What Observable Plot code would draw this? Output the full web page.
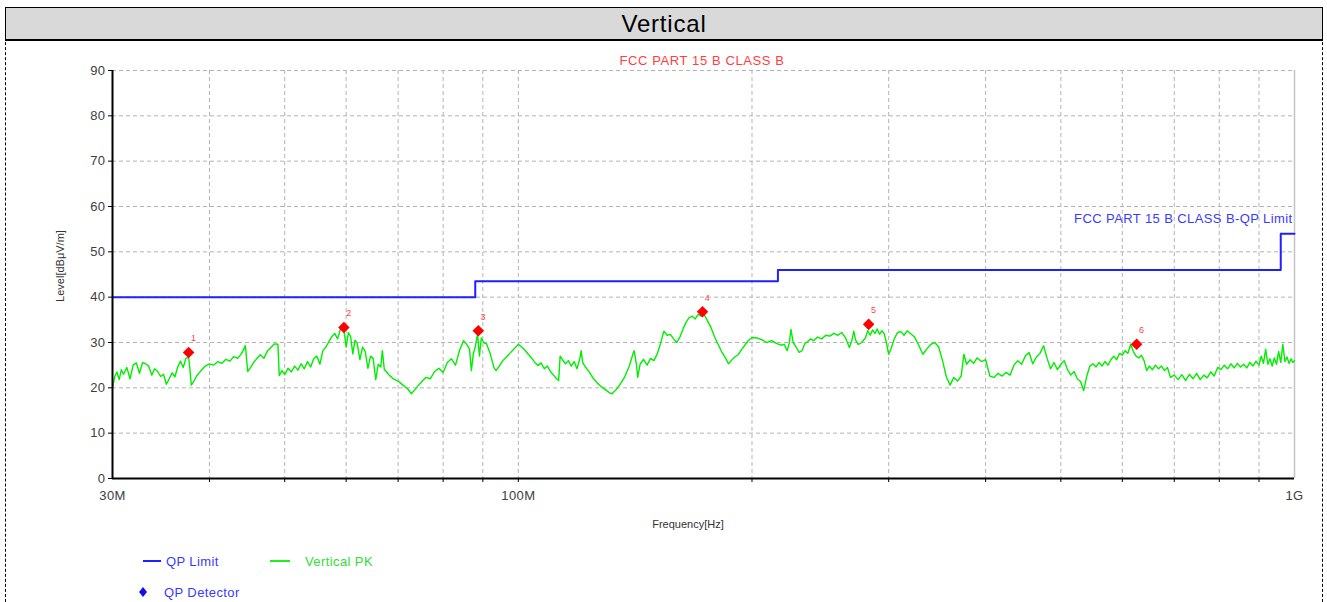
<!DOCTYPE html>
<html><head><meta charset="utf-8">
<script src="https://cdn.jsdelivr.net/npm/d3@7"></script>
<script src="https://cdn.jsdelivr.net/npm/@observablehq/plot@0.6"></script>
<style>
body{margin:0;background:#fff;font-family:"Liberation Sans",Arial,sans-serif;}
#wrap{position:relative;width:1327px;height:602px;overflow:hidden;background:#fff;}
#frame{position:absolute;left:5px;top:7px;width:1316px;height:620px;border-left:1px dashed #000;border-right:1px dashed #000;}
#band{position:absolute;left:5px;top:7px;width:1316px;height:31px;background:#d9d9d9;border:1px solid #000;border-bottom:2px solid #000;text-align:center;font-size:24px;letter-spacing:0.8px;line-height:32px;color:#000;}
#chart{position:absolute;left:0;top:40px;}
.lbl{position:absolute;transform:translate(-50%,-50%);white-space:nowrap;}
.leg{position:absolute;font-size:13px;letter-spacing:0.4px;white-space:nowrap;transform:translateY(-50%);}
</style></head><body><div id="wrap">
<div id="frame"></div>
<div id="band">Vertical</div>
<div id="chart"></div>
<div class="lbl" style="left:702px;top:60px;font-size:13px;letter-spacing:0.6px;color:#ff4040;">FCC PART 15 B CLASS B</div>
<div class="lbl" style="left:60px;top:266px;font-size:11px;color:#333;transform:translate(-50%,-50%) rotate(-90deg);">Level[dBμV/m]</div>
<div class="lbl" style="left:688px;top:524px;font-size:11px;color:#333;">Frequency[Hz]</div>
<svg style="position:absolute;left:0;top:0;" width="1327" height="602">
  <line x1="143" x2="161" y1="561" y2="561" stroke="#2020ff" stroke-width="2"/>
  <line x1="270" x2="290" y1="561" y2="561" stroke="#22ee22" stroke-width="2"/>
  <path d="M143,587 L147,592 L143,597 L139,592 Z" fill="#1010ee"/>
</svg>
<div class="leg" style="left:166px;top:561px;color:#3a3aff;">QP Limit</div>
<div class="leg" style="left:305px;top:561px;color:#33dd33;">Vertical PK</div>
<div class="leg" style="left:164px;top:592px;color:#3a3aff;">QP Detector</div>
</div>
<script>
// ---- data ----
const yTicks = [0,10,20,30,40,50,60,70,80,90];
const xTickValues = [30,100,1000];
const xTickLabels = ["30M","100M","1G"];
const xGridValues = [40,50,60,70,80,90,100,200,300,400,500,600,700,800,900];

const limitFreq = [30, 88, 216, 960, 1000];
const limitLevel = [40, 43.5, 46, 54, 54];
const limitName = "FCC PART 15 B CLASS B-QP Limit";

const markerFreq = [37.6, 59.6, 88.8, 172.7, 282.7, 626];
const markerLevel = [27.8, 33.3, 32.6, 36.8, 34.0, 29.6];
const markerLabel = ["1","2","3","4","5","6"];

// Vertical PK trace: [frequency MHz, level dBuV/m]
const verticalPK = [
[30,20.0],[30.2,22.5],[30.4,23.5],[30.6,21.8],[30.8,24.0],[31,23.0],[31.3,24.5],[31.6,22.0],[31.9,25.0],[32.2,25.5],[32.5,23.2],[32.8,25.6],[33.1,25.3],[33.4,24.8],[33.7,22.8],[34,24.2],[34.3,23.6],[34.6,22.5],[34.9,23.0],[35.2,20.8],[35.5,22.0],[35.8,23.3],[36.1,22.4],[36.4,24.6],[36.7,25.9],[37,24.5],[37.3,26.5],[37.6,26.8],[37.75,24.0],[37.9,20.6],[38.2,21.5],[38.5,22.6],[38.8,23.3],[39.1,24.0],[39.5,24.8],[40,25.3],[40.5,25.0],[41,25.8],[41.5,25.4],[42,26.3],[42.5,25.9],[43,26.9],[43.5,26.5],[44,27.6],[44.5,29.3],[44.8,23.6],[45.2,24.5],[45.6,25.6],[46,26.4],[46.5,27.3],[47,26.5],[47.5,28.1],[48,28.9],[48.5,29.7],[49,29.6],[49.2,22.7],[49.6,23.8],[50,22.9],[50.5,24.3],[51,23.5],[51.5,24.8],[52,23.9],[52.5,25.3],[53,24.2],[53.5,25.8],[54,24.6],[54.5,26.4],[55,27.0],[55.5,25.2],[56,28.2],[56.5,29.0],[57,30.2],[57.5,31.3],[58,32.0],[58.5,30.8],[59,33.0],[59.6,32.8],[60,29.0],[60.4,32.2],[60.8,31.3],[61.2,27.5],[61.6,30.5],[62,29.8],[62.5,26.2],[63,29.0],[63.5,28.0],[64,24.3],[64.5,27.0],[65,26.5],[65.5,21.8],[66,25.2],[66.5,24.6],[66.8,28.2],[67.2,24.0],[67.6,23.6],[68,23.0],[69,22.0],[70,21.5],[71,20.6],[72,19.8],[72.8,18.7],[73.6,19.6],[74.4,20.6],[75.2,21.5],[76,22.3],[77,22.0],[78,23.6],[79,24.3],[80,23.4],[81,25.6],[82,26.4],[83,25.0],[84,28.3],[85,30.4],[85.8,29.6],[86.5,28.6],[87,23.8],[87.5,27.5],[88,29.0],[88.6,31.9],[89.1,27.0],[89.6,31.0],[90.2,30.0],[91,29.7],[92,27.5],[93,24.5],[93.6,23.8],[94.5,24.8],[95.5,26.0],[96.5,26.8],[97.5,27.6],[98.5,28.4],[99.5,29.2],[100,29.6],
[101,29.0],[102,28.3],[103,27.4],[104,26.6],[105,25.6],[106,24.9],[107,25.5],[108,24.2],[109,24.8],[110,23.6],[111,22.8],[112,22.0],[112.7,21.6],[113.2,27.0],[114,26.2],[115,25.3],[116,26.0],[117,24.8],[118,25.8],[119,24.2],[120,26.4],[120.5,28.2],[121,25.6],[122,24.6],[123.5,23.4],[125,22.0],[126.5,21.0],[128,20.2],[129.5,19.6],[131,18.9],[132,18.7],[133.5,19.5],[135,20.6],[137,22.3],[139,24.8],[140.5,27.5],[141,28.2],[142,25.0],[142.5,22.3],[143.5,25.2],[145,26.3],[146.5,25.0],[148,26.5],[149.5,26.0],[151,27.5],[152.5,29.8],[154,32.5],[155.5,31.6],[157,31.8],[158.5,30.8],[160,30.0],[161.5,31.2],[163,33.0],[164.5,34.5],[166,35.5],[167.5,35.8],[169,35.2],[170.5,36.2],[172,35.8],[173,36.5],[174,35.8],[175.5,34.6],[177,33.4],[179,31.2],[181,29.5],[183,27.8],[185,26.5],[186.5,25.3],[188,26.0],[190,26.8],[192,27.3],[194,28.5],[196,29.5],[198,30.5],[200,31.1],[203,31.0],[206,30.6],[209,30.0],[212,30.4],[215,29.8],[218,29.4],[220,29.6],[222,28.2],[223.5,30.0],[224.5,32.9],[226,30.0],[228,29.0],[230,27.8],[232,28.2],[234,29.8],[236,30.2],[238,30.8],[240,30.4],[243,31.2],[246,30.8],[249,31.6],[252,31.4],[255,32.0],[258,31.6],[261,32.2],[264,31.0],[267,28.9],[269,30.5],[270.5,32.5],[272,30.5],[274,29.6],[276,29.8],[278,30.4],[280,31.0],[282,32.6],[284,31.6],[286,32.8],[288,32.0],[290,33.0],[292,31.8],[294,32.6],[296,32.0],[298,30.0],[300,27.4],[302,28.5],[305,30.8],[308,32.2],[311,32.4],[314,31.6],[317,32.6],[320,32.0],[324,31.2],[328,29.4],[332,27.4],[336,28.6],[340,29.6],[344,30.0],[348,29.0],[352,26.0],[356,22.4],[360,20.6],[364,22.3],[368,21.5],[372,22.6],[375,27.4],[378,25.2],[382,26.2],[386,25.4],[390,26.6],[395,25.8],[400,26.2],
[405,22.6],[410,22.3],[415,23.2],[420,22.6],[425,23.4],[430,22.8],[435,25.0],[440,26.0],[445,25.2],[450,27.0],[455,27.8],[460,25.3],[465,26.8],[470,27.6],[475,29.3],[480,26.5],[485,24.2],[490,25.6],[495,24.0],[500,25.2],[505,26.0],[510,24.0],[515,22.8],[520,23.6],[525,22.0],[530,21.4],[535,19.4],[540,22.6],[545,24.8],[550,25.3],[555,24.6],[560,25.6],[565,24.8],[570,25.8],[575,25.0],[580,26.2],[585,27.0],[590,26.2],[595,27.6],[600,27.2],[605,28.2],[610,27.6],[615,29.6],[620,28.0],[625,27.0],[630,26.6],[635,27.2],[640,26.0],[645,23.8],[650,24.8],[656,24.0],[662,25.0],[668,24.2],[674,24.8],[680,23.8],[686,24.5],[692,22.3],[700,22.8],[708,21.8],[716,22.9],[724,21.6],[732,23.0],[740,22.0],[748,23.2],[756,21.8],[764,22.8],[772,22.2],[780,23.5],[788,22.6],[796,24.5],[804,24.0],[812,25.0],[820,24.2],[828,25.3],[836,24.4],[844,25.4],[852,24.6],[860,25.2],[868,24.4],[876,25.6],[884,24.8],[892,25.9],[900,25.0],[906,27.0],[912,25.4],[918,28.5],[924,25.2],[930,26.4],[936,24.8],[942,26.6],[948,25.2],[954,28.0],[960,25.6],[966,29.6],[972,25.8],[978,26.8],[984,25.4],[990,26.4],[995,25.6],[1000,26.0]
];

// ---- build tables ----
const limitData = limitFreq.map((f,i)=>({f, v: limitLevel[i]}));
const markers = markerFreq.map((f,i)=>({f, v: markerLevel[i], t: markerLabel[i]}));
const trace = verticalPK.map(([f,v])=>({f, v}));
const gridStyle = {stroke:"#b4b4b4", strokeOpacity:1, strokeDasharray:"4,3", strokeWidth:1};

const chart = Plot.plot({
  width: 1327, height: 510,
  marginLeft: 112, marginRight: 33, marginTop: 30, marginBottom: 72,
  style: {fontFamily: "'Liberation Sans', Arial, sans-serif", fontSize: "12px", color: "#404040", background: "transparent", overflow: "visible", letterSpacing: "0.4px"},
  x: {type: "log", domain: [30, 1000]},
  y: {domain: [0, 90]},
  marks: [
    Plot.gridY(yTicks.filter(d => d > 0), gridStyle),
    Plot.gridX(xGridValues, gridStyle),
    Plot.ruleX([1000], {stroke:"#c4c4c4", strokeWidth:1.5}),
    Plot.axisY(yTicks, {tickSize: 4, tickPadding: 3, label: null, stroke:"#000", fontSize: 13}),
    Plot.axisX(xGridValues, {tickSize: 4, tickFormat: () => "", label: null, stroke:"#000"}),
    Plot.axisX(xTickValues, {tickSize: 0, tickPadding: 12, label: null, fontSize: 13, tickFormat: d => xTickLabels[xTickValues.indexOf(d)]}),
    Plot.line(limitData, {x:"f", y:"v", curve:"step-after", stroke:"#1f1fff", strokeWidth:2}),
    Plot.line(trace, {x:"f", y:"v", stroke:"#00ee00", strokeWidth:1.4}),
    Plot.ruleX([30], {stroke:"#000", strokeWidth:2}),
    Plot.ruleY([0], {stroke:"#000", strokeWidth:2}),
    Plot.dot(markers, {x:"f", y:"v", symbol:"diamond2", r:5.2, fill:"#ff0000", stroke:null}),
    Plot.text(markers, {x:"f", y:"v", text:"t", dx:5, dy:-14, fill:"#ff4444", fontSize:9}),
    Plot.text([limitData[limitData.length-1]], {x:"f", y:"v", text: () => limitName, textAnchor:"end", dx:-2, dy:-15, fill:"#3a3aff", fontSize:13, letterSpacing:"0.6px"})
  ]
});
document.getElementById("chart").appendChild(chart);
</script>
</body></html>
